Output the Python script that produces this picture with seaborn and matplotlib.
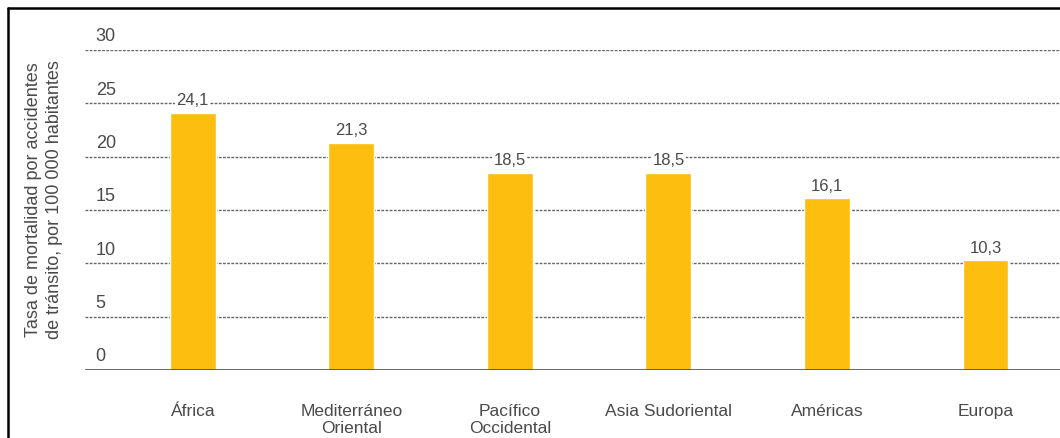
import matplotlib
matplotlib.use("Agg")
import matplotlib.pyplot as plt
import matplotlib.transforms as mtransforms
from matplotlib.lines import Line2D
import seaborn as sns
import pandas as pd

categories = ["África", "Mediterráneo\nOriental", "Pacífico\nOccidental",
              "Asia Sudoriental", "Américas", "Europa"]
values = [24.1, 21.3, 18.5, 18.5, 16.1, 10.3]
value_labels = ["24,1", "21,3", "18,5", "18,5", "16,1", "10,3"]
y_ticks = [0, 5, 10, 15, 20, 25, 30]
y_title = "Tasa de mortalidad por accidentes\nde tránsito, por 100 000 habitantes"

sns.set_theme(style="white")
plt.rcParams["font.family"] = ["Liberation Sans", "DejaVu Sans"]

TXT = "#4a4a4a"
BAR = "#FDBE10"

fig = plt.figure(figsize=(10.6, 4.39), dpi=100)
ax = fig.add_axes([85 / 1060, 68 / 439, 1 - 85 / 1060, (371 - 51) / 439])

df = pd.DataFrame({"region": categories, "valor": values})
sns.barplot(data=df, x="region", y="valor", color=BAR, width=0.29,
            saturation=1, ax=ax, zorder=3)

ax.set_ylim(0, 30)
ax.set_xlim(-0.68, 5.47)

for t in y_ticks[1:]:
    ax.axhline(t, color="#666666", lw=1.0, ls=(0, (2.0, 1.0)), zorder=1)
ax.axhline(0, color="#3a3a3a", lw=1.8, zorder=4)

for s in ax.spines.values():
    s.set_visible(False)

ax.set_yticks([])
ax.set_xlabel("")
ax.set_ylabel("")
ax.tick_params(axis="x", length=0, pad=24, labelsize=12.5, labelcolor=TXT)
for lab in ax.get_xticklabels():
    lab.set_linespacing(1.1)
    lab.set_verticalalignment("top")

# y tick labels above grid lines
trans = mtransforms.blended_transform_factory(ax.transAxes, ax.transData)
off = mtransforms.offset_copy(trans, fig=fig, x=0, y=4, units="points")
for t in y_ticks:
    ax.text(0.011, t, str(t), transform=off, ha="left", va="bottom",
            fontsize=13, color=TXT)

# value labels
for i, (v, lab) in enumerate(zip(values, value_labels)):
    ax.annotate(lab, (i, v), xytext=(0, 4), textcoords="offset points",
                ha="center", va="bottom", fontsize=12, color=TXT, zorder=5,
                bbox=dict(facecolor="white", edgecolor="none", pad=1.0))

fig.text(44 / 1060, 1 - 200 / 439, y_title, rotation=90, ha="center", va="center",
         fontsize=13, color=TXT, linespacing=1.25)

# frame (top and left edges)
fig.add_artist(Line2D([8 / 1060, 1.0], [1 - 9 / 439, 1 - 9 / 439],
                      transform=fig.transFigure, color="black", lw=1.8))
fig.add_artist(Line2D([8 / 1060, 8 / 1060], [0, 1 - 9 / 439],
                      transform=fig.transFigure, color="black", lw=1.8))

fig.savefig("out.png", dpi=100)
